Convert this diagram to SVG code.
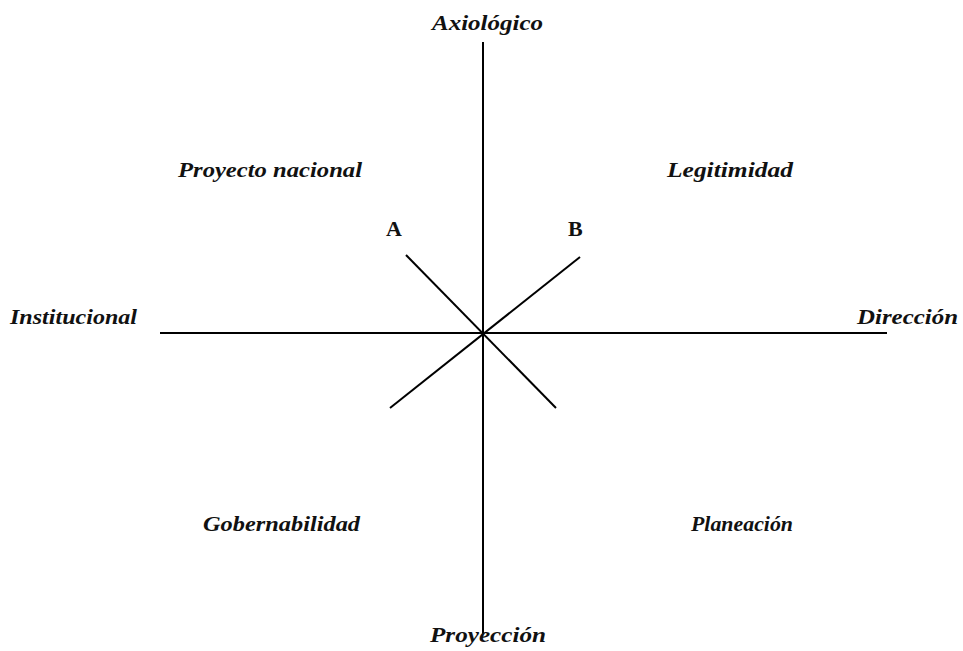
<svg xmlns="http://www.w3.org/2000/svg" width="963" height="651" viewBox="0 0 963 651">
<style>
.t{font-family:"Liberation Serif","Times New Roman",serif;font-style:italic;font-weight:bold;font-size:22px;fill:#111}
.b{font-family:"Liberation Serif","Times New Roman",serif;font-weight:bold;font-size:22px;fill:#111}
.l{stroke:#000;stroke-width:2;fill:none}
</style>
<rect width="963" height="651" fill="#fff"/>
<g id="connectors">
<line class="l" x1="483" y1="42" x2="483" y2="634"/>
<line class="l" x1="160" y1="333" x2="483" y2="333" stroke-width="2.4"/>
<line class="l" x1="483" y1="333" x2="887" y2="333" stroke-width="1.5"/>
<line class="l" x1="406" y1="255" x2="556" y2="408"/>
<line class="l" x1="580" y1="257" x2="390" y2="408"/>
</g>
<g id="axiologico"><text class="t" x="432" y="30" textLength="111" lengthAdjust="spacingAndGlyphs">Axiológico</text></g>
<g id="proyeccion"><text class="t" x="430" y="642" textLength="116" lengthAdjust="spacingAndGlyphs">Proyección</text></g>
<g id="institucional"><text class="t" x="10" y="324" textLength="127" lengthAdjust="spacingAndGlyphs">Institucional</text></g>
<g id="direccion"><text class="t" x="857" y="324" textLength="101" lengthAdjust="spacingAndGlyphs">Dirección</text></g>
<g id="proyecto"><text class="t" x="178" y="177" textLength="184" lengthAdjust="spacingAndGlyphs">Proyecto nacional</text></g>
<g id="legitimidad"><text class="t" x="667" y="177" textLength="126" lengthAdjust="spacingAndGlyphs">Legitimidad</text></g>
<g id="gobernabilidad"><text class="t" x="203" y="531" textLength="157" lengthAdjust="spacingAndGlyphs">Gobernabilidad</text></g>
<g id="planeacion"><text class="t" x="691" y="531" textLength="102" lengthAdjust="spacingAndGlyphs">Planeación</text></g>
<g id="labelA"><text class="b" x="386" y="236">A</text></g>
<g id="labelB"><text class="b" x="568" y="236">B</text></g>
</svg>
